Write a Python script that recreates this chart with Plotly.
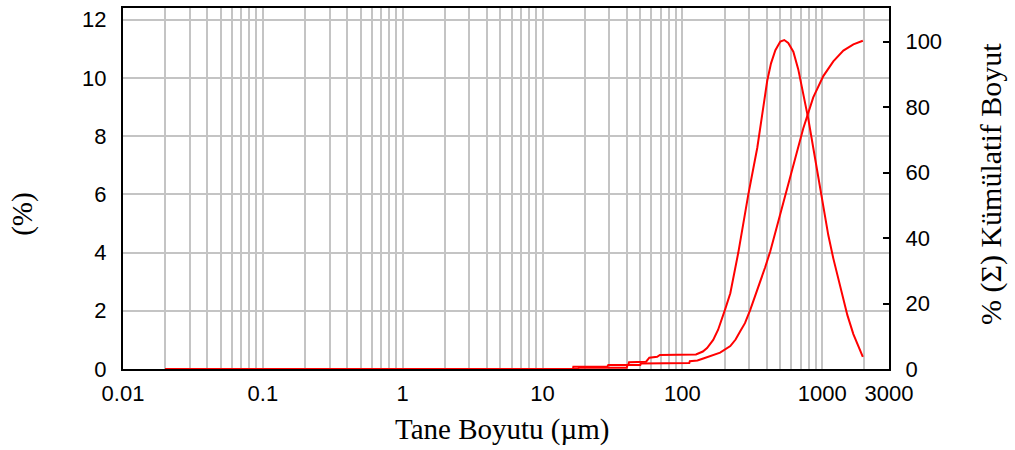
import math
import plotly.graph_objects as go

# ---- data ----
freq_size_um = [0.02, 16.5, 16.6, 29, 29.5, 41, 41.5, 55, 58, 66, 69, 125, 140, 150, 166, 180,
                202, 220, 251, 272, 296, 343, 375, 404, 430, 462, 501, 535, 571, 621, 673, 731,
                794, 862, 930, 1016, 1104, 1199, 1300, 1392, 1512, 1668, 1811, 1950]
freq_pct = [0, 0, 0.08, 0.08, 0.14, 0.14, 0.23, 0.25, 0.39, 0.42, 0.48, 0.5, 0.6, 0.72, 1.0, 1.35,
            2.05, 2.6, 4.0, 5.0, 6.0, 7.6, 8.9, 9.9, 10.5, 10.95, 11.25, 11.3, 11.2, 10.9, 10.3, 9.5,
            8.6, 7.6, 6.7, 5.6, 4.6, 3.8, 3.1, 2.5, 1.85, 1.2, 0.8, 0.42]

cum_size_um = [0.02, 17.9, 18.2, 40, 40.5, 50, 50.5, 112, 113, 128, 141, 160, 186, 220, 240,
               259, 280, 305, 330, 360, 390, 425, 470, 526, 621, 731, 862, 1017, 1199, 1415,
               1669, 1950]
cum_pct = [0, 0, 0.4, 0.4, 1.2, 1.2, 1.7, 1.8, 2.4, 2.6, 3.2, 4.0, 5.0, 7.0, 9.0,
           11.5, 14, 18, 22, 26.5, 31, 36, 43, 51, 63, 73.5, 83, 89.5, 94, 97.3,
           99.2, 100.3]

x_tick_vals = [0.01, 0.1, 1, 10, 100, 1000, 3000]
x_tick_text = ["0.01", "0.1", "1", "10", "100", "1000", "3000"]
y_left_ticks = [0, 2, 4, 6, 8, 10, 12]
y_right_ticks = [0, 20, 40, 60, 80, 100]

x_title = "Tane Boyutu (µm)"
y_left_title = "(%)"
y_right_title = "% (Σ) Kümülatif Boyut"

# minor grid positions (2..9 per decade, plus 2000)
minor_vals = []
for k in range(-2, 3):
    for m in range(2, 10):
        minor_vals.append(m * 10 ** k)
minor_vals.append(2000)

RED = "#ff0000"
GRID = "#c4c4c4"
TICKFONT = dict(family="Liberation Sans, Arial, sans-serif", size=22, color="black")
SERIF = "Liberation Serif, Times New Roman, serif"

fig = go.Figure()
fig.add_trace(go.Scatter(x=freq_size_um, y=freq_pct, mode="lines",
                         line=dict(color=RED, width=2), yaxis="y", showlegend=False))
fig.add_trace(go.Scatter(x=cum_size_um, y=cum_pct, mode="lines",
                         line=dict(color=RED, width=2), yaxis="y2", showlegend=False))

fig.update_layout(
    width=1015, height=450,
    margin=dict(l=123, r=126, t=6, b=81),
    paper_bgcolor="white", plot_bgcolor="white",
    xaxis=dict(
        type="log", range=[math.log10(0.01), math.log10(3000)],
        tickvals=x_tick_vals, ticktext=x_tick_text,
        showgrid=True, gridcolor=GRID, gridwidth=2,
        minor=dict(tickvals=minor_vals, showgrid=True, gridcolor=GRID, gridwidth=2, ticks=""),
        showline=True, linecolor="black", linewidth=2, mirror=True,
        ticks="", tickfont=TICKFONT, zeroline=False, layer="below traces",
        ticklabelstandoff=4,
    ),
    yaxis=dict(
        range=[0, 12.4], tickvals=y_left_ticks,
        showgrid=True, gridcolor=GRID, gridwidth=2,
        showline=True, linecolor="black", linewidth=2, mirror=True,
        ticks="", tickfont=TICKFONT, zeroline=False, ticklabelstandoff=10,
    ),
    yaxis2=dict(
        range=[0, 110.3], tickvals=y_right_ticks, overlaying="y", side="right",
        showgrid=False, showline=True, linecolor="black", linewidth=2,
        ticks="inside", ticklen=6, tickwidth=2, tickcolor="black",
        tickfont=TICKFONT, zeroline=False, ticklabelstandoff=10,
    ),
    annotations=[
        dict(text=x_title, xref="paper", yref="paper", x=(502 - 123) / 766, y=(369 - 430) / 363,
             showarrow=False, font=dict(family=SERIF, size=29, color="black"),
             xanchor="center", yanchor="middle"),
        dict(text=y_left_title, xref="paper", yref="paper", x=(23 - 123) / 766, y=(369 - 213) / 363,
             showarrow=False, textangle=-90, font=dict(family=SERIF, size=29, color="black"),
             xanchor="center", yanchor="middle"),
        dict(text=y_right_title, xref="paper", yref="paper", x=(991 - 123) / 766, y=(369 - 183) / 363,
             showarrow=False, textangle=-90, font=dict(family=SERIF, size=30, color="black"),
             xanchor="center", yanchor="middle"),
    ],
)

fig.write_html("out.html", config={"displayModeBar": False},
               post_script="document.body.style.margin='0';")
